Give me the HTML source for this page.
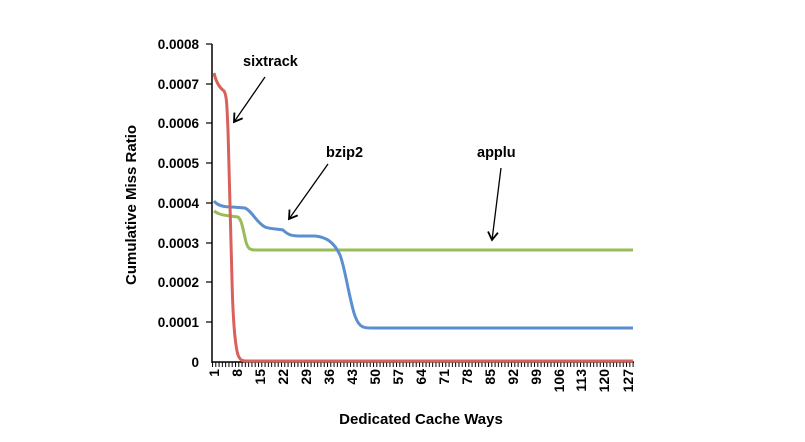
<!DOCTYPE html>
<html><head><meta charset="utf-8"><style>
html,body{margin:0;padding:0;background:#fff;}
svg{display:block;}
text{font-family:"Liberation Sans",sans-serif;font-weight:bold;fill:#000;}
</style></head><body>
<svg width="805" height="442" viewBox="0 0 805 442" xmlns="http://www.w3.org/2000/svg">
<defs>
<pattern id="tk" x="212" y="0" width="3.286" height="442" patternUnits="userSpaceOnUse">
<rect x="0" y="0" width="1" height="442" fill="#000"/>
</pattern>
<marker id="ah" markerWidth="12" markerHeight="12" refX="9" refY="6" orient="auto" markerUnits="userSpaceOnUse">
<path d="M1,1 L9,6 L1,11" fill="none" stroke="#000" stroke-width="1.8"/>
</marker>
</defs>
<line x1="212" y1="44" x2="212" y2="363" stroke="#000" stroke-width="1.5"/>
<line x1="212" y1="362" x2="634" y2="362" stroke="#000" stroke-width="1.5"/>
<rect x="212" y="362" width="422" height="5" fill="url(#tk)"/>
<g stroke="#000" stroke-width="1.2">
<line x1="206" y1="44" x2="212" y2="44"/><line x1="206" y1="84" x2="212" y2="84"/>
<line x1="206" y1="123" x2="212" y2="123"/><line x1="206" y1="163" x2="212" y2="163"/>
<line x1="206" y1="203" x2="212" y2="203"/><line x1="206" y1="243" x2="212" y2="243"/>
<line x1="206" y1="282" x2="212" y2="282"/><line x1="206" y1="322" x2="212" y2="322"/>
</g>
<g font-size="13.5" text-anchor="end">
<text x="199" y="49">0.0008</text><text x="199" y="89">0.0007</text>
<text x="199" y="128">0.0006</text><text x="199" y="168">0.0005</text>
<text x="199" y="208">0.0004</text><text x="199" y="248">0.0003</text>
<text x="199" y="287">0.0002</text><text x="199" y="327">0.0001</text>
<text x="199" y="367">0</text>
</g>
<g font-size="14" text-anchor="end">
<text transform="translate(219,369) rotate(-90)">1</text>
<text transform="translate(242,369) rotate(-90)">8</text>
<text transform="translate(265,369) rotate(-90)">15</text>
<text transform="translate(288,369) rotate(-90)">22</text>
<text transform="translate(311,369) rotate(-90)">29</text>
<text transform="translate(334,369) rotate(-90)">36</text>
<text transform="translate(357,369) rotate(-90)">43</text>
<text transform="translate(380,369) rotate(-90)">50</text>
<text transform="translate(403,369) rotate(-90)">57</text>
<text transform="translate(426,369) rotate(-90)">64</text>
<text transform="translate(449,369) rotate(-90)">71</text>
<text transform="translate(472,369) rotate(-90)">78</text>
<text transform="translate(495,369) rotate(-90)">85</text>
<text transform="translate(518,369) rotate(-90)">92</text>
<text transform="translate(541,369) rotate(-90)">99</text>
<text transform="translate(564,369) rotate(-90)">106</text>
<text transform="translate(586,369) rotate(-90)">113</text>
<text transform="translate(609,369) rotate(-90)">120</text>
<text transform="translate(633,369) rotate(-90)">127</text>
</g>
<text x="421" y="424" font-size="15" text-anchor="middle">Dedicated Cache Ways</text>
<text transform="translate(136,205) rotate(-90)" font-size="15" text-anchor="middle">Cumulative Miss Ratio</text>
<path d="M214,211 C218,214 222,215 230,216 L238,217 C242,220 243,230 246,242 C248,249 250,250 256,250 L633,250" fill="none" stroke="#9bbb59" stroke-width="3"/>
<path d="M214,201 C217,205 222,207 232,207 L245,208 C252,211 256,222 265,227 C270,229 278,229 283,230 C288,235 292,236 300,236 L315,236 C326,237 334,242 340,255 C345,268 348,292 354,313 C358,326 362,328 370,328 L633,328" fill="none" stroke="#5b8fcf" stroke-width="3"/>
<path d="M214,73 C216,82 220,88 224,91 C227,95 227,110 228,130 C229,160 230,220 232,280 C233,320 235,345 238,355 C240,360 242,361 246,361 L633,361" fill="none" stroke="#d9605b" stroke-width="3"/>
<text x="243" y="66" font-size="14.5">sixtrack</text>
<line x1="265" y1="77" x2="234" y2="122" stroke="#000" stroke-width="1.3" marker-end="url(#ah)"/>
<text x="326" y="157" font-size="14.5">bzip2</text>
<line x1="328" y1="164" x2="289" y2="219" stroke="#000" stroke-width="1.3" marker-end="url(#ah)"/>
<text x="477" y="157" font-size="14.5">applu</text>
<line x1="501" y1="168" x2="492" y2="240" stroke="#000" stroke-width="1.3" marker-end="url(#ah)"/>
</svg>
</body></html>
